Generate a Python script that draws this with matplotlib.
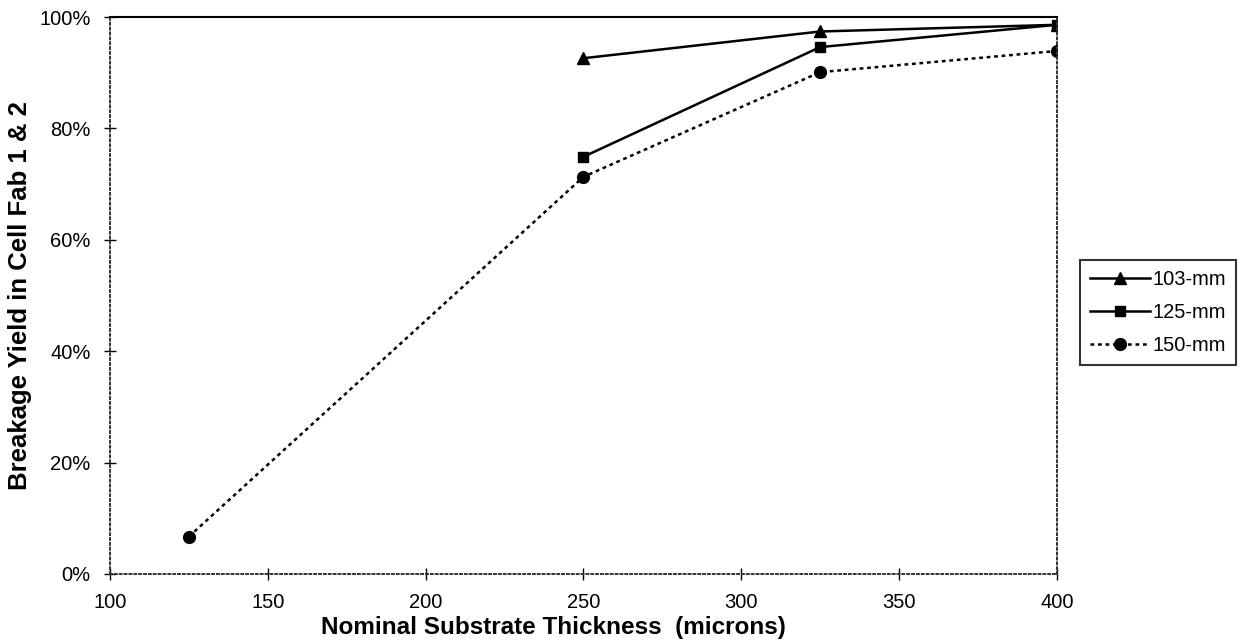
import numpy as np
import matplotlib.pyplot as plt
from matplotlib.ticker import PercentFormatter

plt.rcParams['font.family'] = ['Liberation Sans', 'DejaVu Sans']

# data
x_103 = [250, 325, 400]
y_103 = [92.6, 97.4, 98.6]
x_125 = [250, 325, 400]
y_125 = [74.9, 94.6, 98.6]
x_150 = [125, 250, 325, 400]
y_150 = [6.7, 71.3, 90.1, 93.9]

fig = plt.figure(figsize=(12.41, 6.42), dpi=100)
ax = fig.add_axes([0.0886, 0.106, 0.763, 0.8675])

ax.plot(x_103, y_103, color='black', lw=1.8, marker='^', ms=8.5, label='103-mm')
ax.plot(x_125, y_125, color='black', lw=1.8, marker='s', ms=7.5, label='125-mm')
ax.plot(x_150, y_150, color='black', lw=1.8, ls=(0, (1.5, 1.5)), marker='o', ms=8.5,
        label='150-mm')

ax.set_xlim(100, 400)
ax.set_ylim(0, 100)
ax.set_xticks(np.arange(100, 401, 50))
ax.set_yticks(np.arange(0, 101, 20))
ax.yaxis.set_major_formatter(PercentFormatter(decimals=0))
ax.tick_params(direction='inout', length=8, width=1, labelsize=14.5, pad=10)

for s in ['left', 'bottom', 'right']:
    ax.spines[s].set_linestyle((0, (1, 1.5)))
    ax.spines[s].set_linewidth(1.4)
    ax.spines[s].set_color('#333333')
ax.spines['top'].set_linewidth(1.5)

ax.set_xlabel('Nominal Substrate Thickness  (microns)', fontsize=17.5,
              fontweight='bold')
ax.xaxis.set_label_coords(0.468, -0.075)
ax.set_ylabel('Breakage Yield in Cell Fab 1 & 2', fontsize=18.5,
              fontweight='bold')
ax.yaxis.set_label_coords(-0.082, 0.5)

leg = ax.legend(loc='center left', bbox_to_anchor=(1.024, 0.47), fontsize=14.5,
                frameon=True, fancybox=False, edgecolor='black',
                handlelength=3.0, handletextpad=0.1, borderpad=0.5,
                labelspacing=0.7, borderaxespad=0)
leg.get_frame().set_linewidth(1.5)

fig.savefig('out.png', dpi=100)
